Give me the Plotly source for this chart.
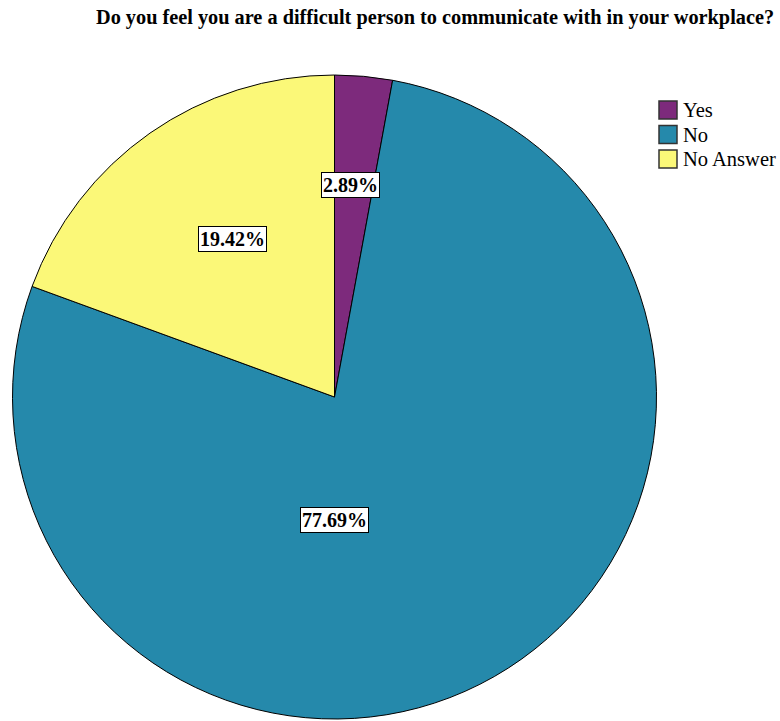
import plotly.graph_objects as go

categories = ["Yes", "No", "No Answer"]
percentages = [2.89, 77.69, 19.42]
colors = ["#7D2A7C", "#2589AB", "#FBF878"]
title_text = "Do you feel you are a difficult person to communicate with in your workplace?"

W, H = 780, 721

# label box placement (pixel centres), one per slice
label_px = [(350, 185), (334, 520), (232, 239)]

fig = go.Figure(go.Pie(
    labels=categories,
    values=percentages,
    sort=False,
    direction="clockwise",
    rotation=0,
    marker=dict(colors=colors, line=dict(color="black", width=1)),
    textinfo="none",
    hoverinfo="label+percent",
    showlegend=False,
    domain=dict(x=[12/W, 657/W], y=[1-719/H, 1-75/H]),
))

annotations = []
for (px, py), v in zip(label_px, percentages):
    annotations.append(dict(
        x=px/W, y=1-py/H, xref="paper", yref="paper",
        xanchor="center", yanchor="middle",
        text=f"<b>{v:.2f}%</b>", showarrow=False,
        font=dict(family="Liberation Serif", size=20, color="black"),
        bgcolor="white", bordercolor="black", borderwidth=1, borderpad=1,
    ))

annotations.append(dict(
    x=435/W, y=1-18/H, xref="paper", yref="paper",
    xanchor="center", yanchor="middle",
    text=f"<b>{title_text}</b>", showarrow=False,
    font=dict(family="Liberation Serif", size=20.3, color="black"),
))

# manual legend
shapes = []
for i, (cat, col) in enumerate(zip(categories, colors)):
    top = 101 + i * 24.5
    shapes.append(dict(
        type="rect", xref="paper", yref="paper",
        x0=659/W, x1=677/W, y0=1-(top+18)/H, y1=1-top/H,
        fillcolor=col, line=dict(color="#333333", width=1.5),
    ))
    annotations.append(dict(
        x=681/W, y=1-(top+9)/H, xref="paper", yref="paper",
        xanchor="left", yanchor="middle", text=cat, showarrow=False,
        font=dict(family="Liberation Serif", size=20.5, color="black"),
    ))

fig.update_layout(
    width=W, height=H,
    margin=dict(l=0, r=0, t=0, b=0),
    paper_bgcolor="white",
    plot_bgcolor="white",
    showlegend=False,
    annotations=annotations,
    shapes=shapes,
)

fig.write_html("out.html", config={"displayModeBar": False},
               post_script="document.body.style.margin='0';")
